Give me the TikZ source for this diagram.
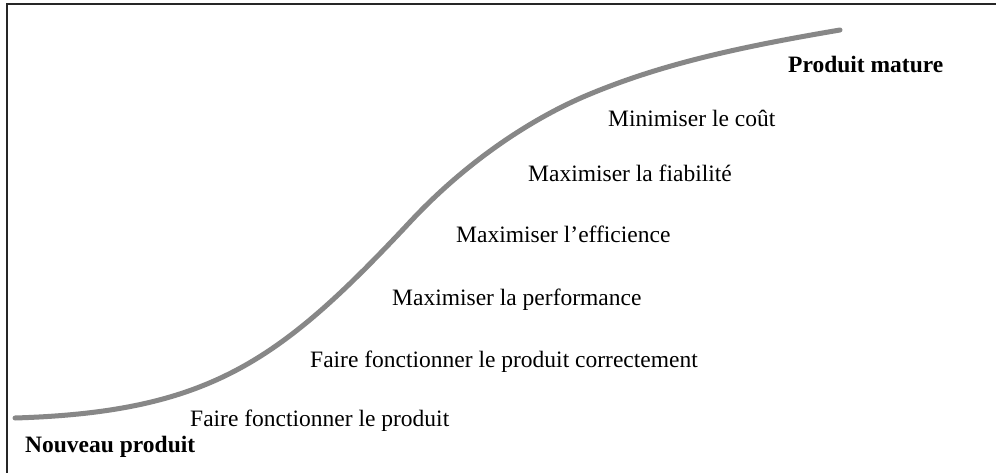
\documentclass[tikz,border=0pt]{standalone}
\usepackage{fontspec}
\setmainfont{Liberation Serif}
\begin{document}
\begin{tikzpicture}[x=1pt,y=-1pt,
  lbl/.style={anchor=base west,inner sep=0pt,font=\fontsize{23.5}{27}\selectfont},
  blbl/.style={lbl,font=\fontsize{23.5}{27}\selectfont\bfseries},
  scurve/.style={line width=5pt,color=black!47,line cap=round,line join=round}]
\useasboundingbox (0,0) rectangle (996,473);
\fill[white] (0,0) rectangle (996,473);
% frame (top and left edges visible)
\draw[line width=2pt,black!85] (7,473) -- (7,4.5) -- (996,4.5);
% S-curve
\coordinate (start) at (15,418);
\coordinate (infl) at (410,222);
\coordinate (knee) at (583,97);
\coordinate (end) at (840,30);
\draw[scurve] (start) .. controls (210,412) and (280,361) .. (infl)
  .. controls (465,163) and (528,121) .. (knee)
  .. controls (660,64) and (740,47) .. (end);
% labels
\node[blbl] (mature) at (788,73) {Produit mature};
\node[lbl] (cout) at (608,127) {Minimiser le coût};
\node[lbl] (fiab) at (528,182) {Maximiser la fiabilité};
\node[lbl] (effic) at (456,243) {Maximiser l’efficience};
\node[lbl] (perf) at (392,305) {Maximiser la performance};
\node[lbl] (corr) at (310,367) {Faire fonctionner le produit correctement};
\node[lbl] (fonc) at (190,426) {Faire fonctionner le produit};
\node[blbl] (nouveau) at (25,452) {Nouveau produit};
\end{tikzpicture}
\end{document}
